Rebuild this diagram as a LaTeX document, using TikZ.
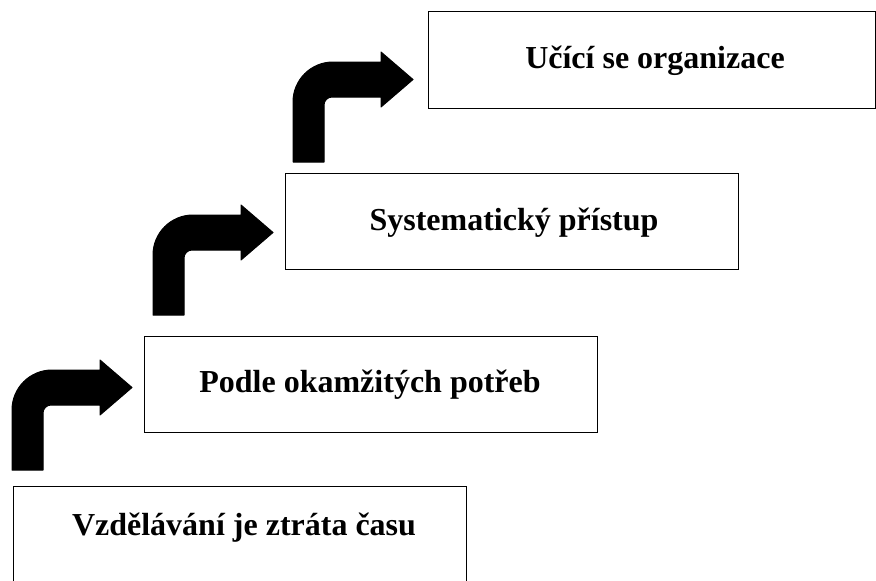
\documentclass[tikz,border=0pt]{standalone}
\usepackage{fontspec}
\setmainfont{Liberation Serif}
\begin{document}
\begin{tikzpicture}[x=1pt,y=-1pt,
  stagebox/.style={draw=black, line width=1.4pt, fill=white, rectangle,
    anchor=north west, inner sep=0pt},
  stagelabel/.style={anchor=base, inner sep=0pt,
    font=\fontsize{32}{38}\selectfont\bfseries},
  turnarrow/.pic={
    % thick bent arrow: stem goes up, bends right, ends in a head
    \filldraw[black, line width=1pt, line join=round]
      (0,0) -- (0,-60)
      .. controls (0,-82.1) and (17.9,-100) .. (40,-100)
      -- (88,-100) -- (88,-110) -- (120,-82.5) -- (88,-55) -- (88,-65)
      -- (39,-65)
      .. controls (34.6,-65) and (31,-61.4) .. (31,-57)
      -- (31,0) -- cycle;
  }]
\useasboundingbox (0,0) rectangle (876,581);
\clip (0,0) rectangle (876,581);

% the four stages, bottom to top
\node[stagebox, minimum width=453pt, minimum height=130pt] (b1) at (13,486) {};
\node[stagebox, minimum width=453pt, minimum height=96pt] (b2) at (144,336) {};
\node[stagebox, minimum width=453pt, minimum height=96pt] (b3) at (285,173) {};
\node[stagebox, minimum width=447pt, minimum height=97pt] (b4) at (428,11) {};

\node[stagelabel] (t1) at (244,535) {Vzdělávání je ztráta času};
\node[stagelabel] (t2) at (370,392) {Podle okamžitých potřeb};
\node[stagelabel] (t3) at (514,230) {Systematický přístup};
\node[stagelabel] (t4) at (655,68) {Učící se organizace};

% step arrows between the stages
\pic at (12,470) {turnarrow};
\pic at (153,315) {turnarrow};
\pic at (293,162) {turnarrow};
\end{tikzpicture}
\end{document}
